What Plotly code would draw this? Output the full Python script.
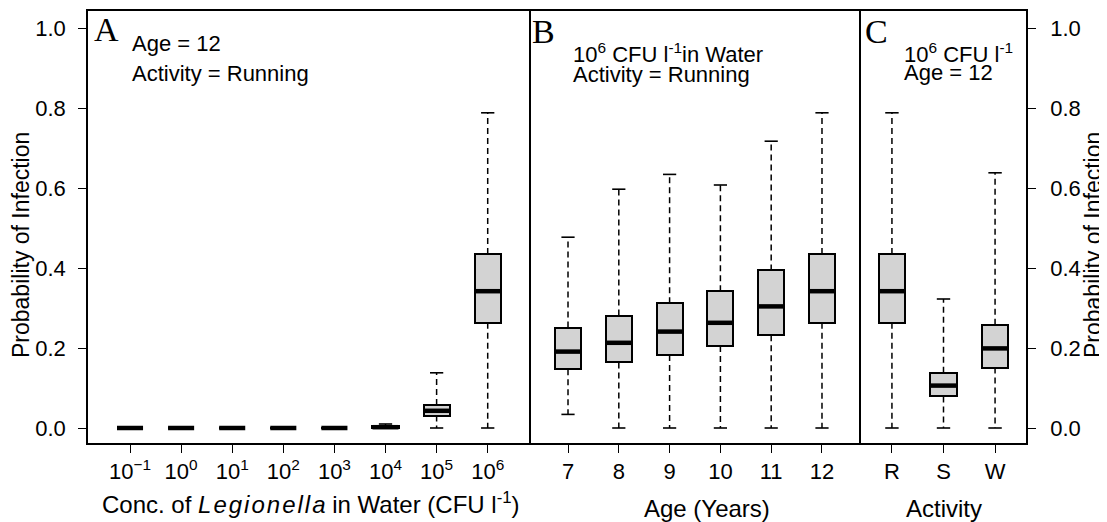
import plotly.graph_objects as go

# ---------------- data ----------------
conc_labels = ["10<sup>−1</sup>", "10<sup>0</sup>", "10<sup>1</sup>", "10<sup>2</sup>",
               "10<sup>3</sup>", "10<sup>4</sup>", "10<sup>5</sup>", "10<sup>6</sup>"]
conc_lower = [0, 0, 0, 0, 0, 0, 0, 0]
conc_q1 = [0, 0, 0, 0, 0, 0.001, 0.031, 0.263]
conc_median = [0, 0, 0, 0, 0, 0.002, 0.043, 0.342]
conc_q3 = [0, 0, 0, 0, 0, 0.005, 0.0575, 0.435]
conc_upper = [0, 0, 0, 0, 0, 0.010, 0.138, 0.788]

age_labels = ["7", "8", "9", "10", "11", "12"]
age_lower = [0.034, 0, 0, 0, 0, 0]
age_q1 = [0.147, 0.164, 0.1825, 0.205, 0.232, 0.263]
age_median = [0.191, 0.213, 0.241, 0.263, 0.304, 0.342]
age_q3 = [0.251, 0.281, 0.312, 0.342, 0.394, 0.435]
age_upper = [0.477, 0.597, 0.634, 0.6075, 0.717, 0.788]

act_labels = ["R", "S", "W"]
act_lower = [0, 0, 0]
act_q1 = [0.263, 0.079, 0.151]
act_median = [0.342, 0.106, 0.199]
act_q3 = [0.435, 0.138, 0.258]
act_upper = [0.788, 0.3225, 0.638]

y_ticks = [0, 0.2, 0.4, 0.6, 0.8, 1.0]
y_ticktext = ["0.0", "0.2", "0.4", "0.6", "0.8", "1.0"]

# ---------------- style ----------------
OFF = 8                      # default page (body) margin of the html page
W, H = 1107 - OFF, 522 - OFF
ML, MR, MT, MB = 88 - OFF, 81, 11 - OFF, 79
PW, PH = W - ML - MR, H - MT - MB
SANS = "Liberation Sans, Arial, sans-serif"
SERIF = "Liberation Serif, Times New Roman, serif"
FS = 22
FT = 24
BOXW = 0.51
CAPW = 0.26
FILL = "#d3d3d3"
HS = "\u200a"


def px_x(px):
    return (px - OFF - ML) / PW


def px_y(py):
    return (MT + PH - (py - OFF)) / PH


fig = go.Figure()


def add_panel(xa, ya, lower, q1, med, q3, upper):
    n = len(med)
    idx = list(range(n))
    wx, wy, cx, cy, mx, my = [], [], [], [], [], []
    for i in idx:
        wx += [i, i, None, i, i, None]
        wy += [q3[i], upper[i], None, q1[i], lower[i], None]
        cx += [i - CAPW / 2, i + CAPW / 2, None, i - CAPW / 2, i + CAPW / 2, None]
        cy += [upper[i], upper[i], None, lower[i], lower[i], None]
        mx += [i - BOXW / 2, i + BOXW / 2, None]
        my += [med[i], med[i], None]
    fig.add_trace(go.Scatter(x=wx, y=wy, mode="lines", xaxis=xa, yaxis=ya,
                             line=dict(color="black", width=1.5, dash="6px,4px"),
                             hoverinfo="skip", showlegend=False))
    fig.add_trace(go.Bar(x=idx, y=[q3[i] - q1[i] for i in idx], base=q1,
                         width=BOXW, xaxis=xa, yaxis=ya,
                         marker=dict(color=FILL, line=dict(color="black", width=2)),
                         showlegend=False))
    fig.add_trace(go.Scatter(x=cx, y=cy, mode="lines", xaxis=xa, yaxis=ya,
                             line=dict(color="black", width=1.6),
                             hoverinfo="skip", showlegend=False))
    fig.add_trace(go.Scatter(x=mx, y=my, mode="lines", xaxis=xa, yaxis=ya,
                             line=dict(color="black", width=4.5),
                             hoverinfo="skip", showlegend=False))


add_panel("x", "y", conc_lower, conc_q1, conc_median, conc_q3, conc_upper)
add_panel("x2", "y2", age_lower, age_q1, age_median, age_q3, age_upper)
add_panel("x3", "y3", act_lower, act_q1, act_median, act_q3, act_upper)

d1 = px_x(529)
d2 = px_x(861)
yr = [-0.0375, 1.0425]

common_x = dict(showline=True, mirror=True, linecolor="black", linewidth=1.5,
                ticks="outside", ticklen=8, tickwidth=1.2, tickcolor="black",
                showgrid=False, zeroline=False,
                tickfont=dict(family=SANS, size=FS, color="black"))
yticks = dict(tickvals=y_ticks, ticktext=y_ticktext,
              ticks="outside", ticklen=8, tickwidth=1.2, tickcolor="black",
              tickfont=dict(family=SANS, size=FS, color="black"))

fig.update_layout(
    width=W, height=H,
    margin=dict(l=ML, r=MR, t=MT, b=MB, autoexpand=False),
    paper_bgcolor="white", plot_bgcolor="white",
    showlegend=False, barmode="overlay", bargap=0,
    font=dict(family=SANS, size=FS, color="black"),
    xaxis=dict(domain=[0, d1], range=[-0.822, 7.808], anchor="y",
               tickvals=list(range(len(conc_labels))), ticktext=conc_labels, **common_x),
    xaxis2=dict(domain=[d1, d2], range=[-0.768, 5.768], anchor="y2",
                tickvals=list(range(len(age_labels))), ticktext=age_labels, **common_x),
    xaxis3=dict(domain=[d2, 1], range=[-0.6, 2.6], anchor="y3",
                tickvals=list(range(len(act_labels))), ticktext=act_labels, **common_x),
    yaxis=dict(domain=[0, 1], anchor="x", range=yr, showline=True, mirror=True,
               linecolor="black", linewidth=1.5, showgrid=False, zeroline=False,
               ticklabelstandoff=8, **yticks),
    yaxis2=dict(domain=[0, 1], anchor="x2", range=yr, showline=False, showgrid=False,
                zeroline=False, showticklabels=False, ticks=""),
    yaxis3=dict(domain=[0, 1], anchor="x3", side="right", range=yr, showline=True, mirror=True,
                linecolor="black", linewidth=1.5, showgrid=False, zeroline=False,
                ticklabelstandoff=10, **yticks),
)

# axis titles
legionella = HS.join("Legionella")
titles = [
    ("Conc. of <i>" + legionella + "</i> in Water (CFU l<sup>-1</sup>)", 311, 503, 0, FT),
    ("Age (Years)", 707, 508, 0, FT),
    ("Activity", 944, 508, 0, FT),
    ("Probability of Infection", 21, 245, -90, 23),
    ("Probability of Infection", 1093, 245, -90, 23),
]
for text, x, y, ang, size in titles:
    fig.add_annotation(text=text, x=px_x(x), y=px_y(y), xref="paper", yref="paper",
                       xanchor="center", yanchor="middle", showarrow=False, textangle=ang,
                       font=dict(family=SANS, size=size, color="black"), borderpad=0)

annos = [
    ("A", 93, 29.5, SERIF, 34),
    ("B", 531, 31.5, SERIF, 34),
    ("C", 864, 31.5, SERIF, 34),
    ("Age = 12", 131, 43.5, SANS, FS),
    ("Activity = Running", 131, 73.5, SANS, FS),
    ("10<sup>6</sup> CFU l<sup>-1</sup>in Water", 572, 53, SANS, FS),
    ("Activity = Running", 572, 74, SANS, FS),
    ("10<sup>6</sup> CFU l<sup>-1</sup>", 903, 53, SANS, FS),
    ("Age = 12", 903, 72, SANS, FS),
]
for text, x, y, fam, size in annos:
    fig.add_annotation(text=text, x=px_x(x), y=px_y(y), xref="paper", yref="paper",
                       xanchor="left", yanchor="middle", showarrow=False,
                       font=dict(family=fam, size=size, color="black"), borderpad=0)

fig.write_html("out.html")
